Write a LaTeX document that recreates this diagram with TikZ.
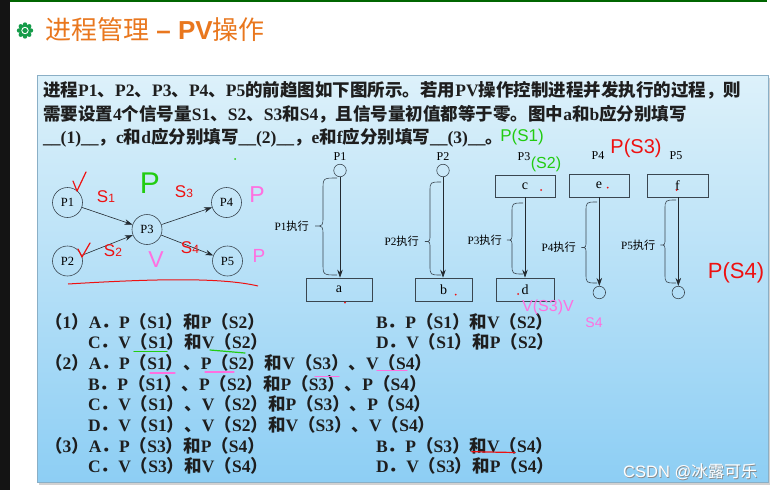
\documentclass[tikz,border=0pt]{standalone}
\usepackage{fontspec}
\usepackage{graphicx}
\setmainfont{Liberation Serif}
\setsansfont{Liberation Sans}
\newfontfamily\cjkfont{Noto Sans CJK SC}
\usetikzlibrary{arrows.meta}

% switch to the CJK font for every run of Chinese characters
\XeTeXinterchartokenstate=1
\newXeTeXintercharclass\cjkclass
\newcount\cjkcnt
\cjkcnt="21
\loop\XeTeXcharclass\cjkcnt=0 \advance\cjkcnt by 1 \ifnum\cjkcnt<"7F\repeat
\cjkcnt="3000
\loop\XeTeXcharclass\cjkcnt=\cjkclass \advance\cjkcnt by 1 \ifnum\cjkcnt<"A000\repeat
\cjkcnt="FF00
\loop\XeTeXcharclass\cjkcnt=\cjkclass \advance\cjkcnt by 1 \ifnum\cjkcnt<"FFF0\repeat
\XeTeXinterchartoks 0 \cjkclass={\begingroup\cjkfont}
\XeTeXinterchartoks 4095 \cjkclass={\begingroup\cjkfont}
\XeTeXinterchartoks \cjkclass 0={\endgroup}
\XeTeXinterchartoks \cjkclass 4095={\endgroup}

\definecolor{titleor}{HTML}{E9771E}
\definecolor{boxtop}{HTML}{DDF1FA}
\definecolor{boxbot}{HTML}{8DCEF4}
\definecolor{boxline}{HTML}{8AAFC6}
\definecolor{inkc}{HTML}{1E1E1E}
\definecolor{figline}{HTML}{3A4650}
\definecolor{penred}{HTML}{EE1111}
\definecolor{pengreen}{HTML}{22CC11}
\definecolor{penpink}{HTML}{FF6FE0}
\definecolor{iconc}{HTML}{169C4A}

\begin{document}
\catcode`\_=12
\begin{tikzpicture}[x=1pt,y=-1pt,
  qtext/.style={anchor=base west,inner sep=0,text=inkc,font=\bfseries\fontsize{17.5}{20}\selectfont},
  pc/.style={circle,draw=figline,line width=0.6pt,minimum size=30pt,inner sep=0,font=\fontsize{12.5}{14}\selectfont},
  garr/.style={draw=figline!60!black,line width=0.6pt,-{Stealth[length=8pt,width=5.5pt]}},
  ptag/.style={inner sep=0,font=\fontsize{12}{14}\selectfont},
  sem/.style={circle,draw=figline,line width=0.6pt,minimum size=12.5pt,inner sep=0},
  pbox/.style={draw=figline,line width=0.7pt,minimum height=23pt,inner sep=0,font=\fontsize{14}{14}\selectfont},
  runlbl/.style={anchor=east,inner sep=0,font=\fontsize{11.2}{13}\selectfont},
  brc/.style={draw=figline,line width=0.6pt},
  hand/.style={inner sep=0,font=\sffamily\fontsize{#1}{#1}\selectfont},
  penline/.style={line width=1.2pt,line cap=round,line join=round}]
\useasboundingbox (0,0) rectangle (775,490);
\fill[white] (0,0) rectangle (775,490);
\fill[black!92] (0,0) rectangle (10,490);
\fill[green!40!black] (10,0) rectangle (767,2);

% title
\fill[iconc] (25,30.5) circle (6);
\foreach \a in {0,45,...,315} \fill[iconc] (25,30.5) ++(\a:6) circle (2.2);
\draw[white,line width=0.9pt] (25,30.5) circle (3.2);
\fill[iconc] (25,30.5) circle (1.4);
\node[anchor=base west,inner sep=0,text=titleor,font=\sffamily\fontsize{26}{30}\selectfont] (title) at (45,39) {进程管理 {\bfseries – PV}操作};

% question box
\fill[black!18] (39,77.5) rectangle (770,484.5);
\shade[top color=boxtop,bottom color=boxbot] (37,75) rectangle (768,482);
\draw[boxline,line width=0.6pt] (37,75) rectangle (768,482);

\node[qtext] (q1) at (43,96.5) {进程P1、P2、P3、P4、P5的前趋图如下图所示。若用PV操作控制进程并发执行的过程，则};
\node[qtext] (q2) at (43,120) {需要设置4个信号量S1、S2、S3和S4，且信号量初值都等于零。图中a和b应分别填写};
\node[qtext] (q3) at (43,143.5) {__(1)__，c和d应分别填写__(2)__，e和f应分别填写__(3)__。};

% precedence graph
\node[pc] (p1) at (67.5,202.5) {P1};
\node[pc] (p2) at (67.5,261) {P2};
\node[pc] (p3) at (147,229.5) {P3};
\node[pc] (p4) at (226.5,202.5) {P4};
\node[pc] (p5) at (227.5,261) {P5};
\draw[garr] (p1) -- (p3);
\draw[garr] (p2) -- (p3);
\draw[garr] (p3) -- (p4);
\draw[garr] (p3) -- (p5);

% P1
\node[ptag] (t1) at (340,157) {P1};
\node[sem] (s1) at (340,170.5) {};
\node[pbox,minimum width=66pt] (a) at (339,289.5) {a};
\draw[garr] (s1) -- (s1 |- a.north);
\draw[brc] (337,178) .. controls (323,178) .. (323,190) -- (323,216) .. controls (323,226) .. (315,226) .. controls (323,226) .. (323,236) -- (323,263) .. controls (323,275) .. (337,275);
\node[runlbl] (r1) at (309,226) {P1执行};
% P2
\node[ptag] (t2) at (443,157) {P2};
\node[sem] (s2) at (443,170.5) {};
\node[pbox,minimum width=57pt] (b) at (443.5,289.5) {b};
\draw[garr] (s2) -- (s2 |- b.north);
\draw[brc] (441,182) .. controls (430,182) .. (430,192) -- (430,234) .. controls (430,241.5) .. (425,241.5) .. controls (430,241.5) .. (430,249) -- (430,265) .. controls (430,275) .. (441,275);
\node[runlbl] (r2) at (419,241.5) {P2执行};
% P3
\node[ptag] (t3) at (524,157) {P3};
\node[pbox,minimum width=60pt,minimum height=22pt] (c) at (525,186) {c};
\node[pbox,minimum width=58pt] (d) at (525,289.5) {d};
\draw[garr] (c) -- (d);
\draw[brc] (523,203) .. controls (512,203) .. (512,213) -- (512,233) .. controls (512,240) .. (507,240) .. controls (512,240) .. (512,247) -- (512,264) .. controls (512,274) .. (523,274);
\node[runlbl] (r3) at (502,240) {P3执行};
% P4
\node[ptag] (t4) at (598,156) {P4};
\node[pbox,minimum width=60pt] (e) at (599,185.5) {e};
\node[sem] (s4) at (599.3,292.5) {};
\draw[garr] (e.south -| s4) -- (s4);
\draw[brc] (597,202) .. controls (586,202) .. (586,212) -- (586,240.5) .. controls (586,247.5) .. (581.5,247.5) .. controls (586,247.5) .. (586,254.5) -- (586,273) .. controls (586,283) .. (597,283);
\node[runlbl] (r4) at (576,247.5) {P4执行};
% P5
\node[ptag] (t5) at (676,156) {P5};
\node[pbox,minimum width=61pt] (f) at (677.5,185.5) {f};
\node[sem] (s5) at (678.3,292.5) {};
\draw[garr] (f.south -| s5) -- (s5);
\draw[brc] (676,200) .. controls (665,200) .. (665,210) -- (665,238) .. controls (665,245) .. (660.5,245) .. controls (665,245) .. (665,252) -- (665,273) .. controls (665,283) .. (676,283);
\node[runlbl] (r5) at (655.5,245) {P5执行};

% options
\node[qtext] (o1a) at (45,328) {（1）A．P（S1）和P（S2）};
\node[qtext] (o1b) at (376,328) {B．P（S1）和V（S2）};
\node[qtext] (o1c) at (88,348.5) {C．V（S1）和V（S2）};
\node[qtext] (o1d) at (376,348.5) {D．V（S1）和P（S2）};
\node[qtext] (o2a) at (45,369.5) {（2）A．P（S1）、P（S2）和V（S3）、V（S4）};
\node[qtext] (o2b) at (88,390) {B．P（S1）、P（S2）和P（S3）、P（S4）};
\node[qtext] (o2c) at (88,410.5) {C．V（S1）、V（S2）和P（S3）、P（S4）};
\node[qtext] (o2d) at (88,431) {D．V（S1）、V（S2）和V（S3）、V（S4）};
\node[qtext] (o3a) at (45,452) {（3）A．P（S3）和P（S4）};
\node[qtext] (o3b) at (376,452) {B．P（S3）和V（S4）};
\node[qtext] (o3c) at (88,472.5) {C．V（S3）和V（S4）};
\node[qtext] (o3d) at (376,472.5) {D．V（S3）和P（S4）};

% pen notes
\draw[penred,penline] (73,181) -- (77,191) -- (86,172);
\draw[penred,penline] (78,249) -- (82,257) -- (90,243);
\node[hand=17,penred] (n1) at (106,197) {S{\fontsize{12}{12}\selectfont 1}};
\node[hand=17,penred] (n2) at (113,251) {S{\fontsize{12}{12}\selectfont 2}};
\node[hand=17,penred] (n3) at (184,192) {S{\fontsize{12}{12}\selectfont 3}};
\node[hand=17,penred] (n4) at (190,248) {S{\fontsize{12}{12}\selectfont 4}};
\node[hand=30,pengreen] (n5) at (150,183) {P};
\node[hand=23,penpink] (n6) at (257,195) {P};
\node[hand=19,penpink] (n7) at (259,256) {P};
\node[hand=23,penpink] (n8) at (156,260) {V};
\draw[penred,line width=1pt] (68,284) .. controls (150,279) and (220,277) .. (258,286);
\node[hand=17,pengreen] (n9) at (522,137) {P(S1)};
\node[hand=16,pengreen] (n10) at (546,164) {(S2)};
\node[hand=20,penred] (n11) at (636,148) {P(S3)};
\node[hand=22,penred] (n12) at (736,273) {P(S4)};
\node[hand=16,penpink] (n13) at (548,307) {V(S3)V};
\node[hand=14,penpink] (n14) at (594,323) {S4};
\draw[pengreen,penline] (134,351.7) -- (167,351.7);
\draw[pengreen,penline] (210,350) -- (245,353);
\draw[penpink,penline] (150,373) -- (175,373);
\draw[penpink,penline] (205,372) -- (234,372);
\draw[penpink,penline] (315,376.7) -- (339,376.7);
\draw[penpink,penline] (377,370.7) -- (407,370.7);
\draw[penred,penline] (471.7,451.7) -- (515,452.5);
\foreach \p in {(345,302.7),(455.7,294.7),(518,294),(541,190),(607.7,187.7),(676.7,190)}
  \fill[penred] \p circle (1);
\fill[pengreen] (235,159) circle (1);

% watermark
\node[anchor=base west,inner sep=0,text=black!45,font=\sffamily\fontsize{16.5}{18}\selectfont] (wm0) at (623.8,478.3) {CSDN @冰露可乐};
\node[anchor=base west,inner sep=0,text=white,font=\sffamily\fontsize{16.5}{18}\selectfont] (wm) at (623,477.5) {CSDN @冰露可乐};
\end{tikzpicture}
\end{document}
